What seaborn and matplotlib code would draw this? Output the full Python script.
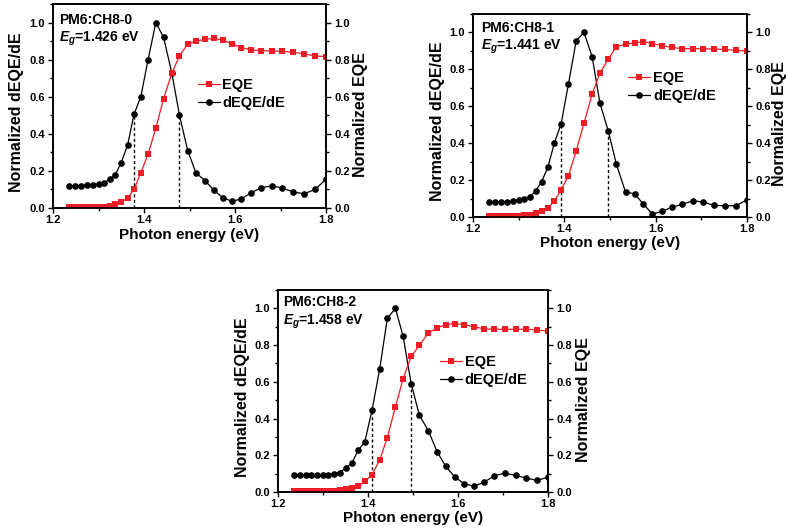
import numpy as np
import pandas as pd
import matplotlib
matplotlib.use("Agg")
import matplotlib.pyplot as plt
import seaborn as sns
from matplotlib.ticker import MultipleLocator

# ---------------- data ----------------
energy = [1.236, 1.249, 1.262, 1.274, 1.287, 1.300, 1.312, 1.325, 1.337, 1.350,
          1.364, 1.378, 1.393, 1.409, 1.426, 1.443, 1.461, 1.478, 1.496, 1.514,
          1.534, 1.554, 1.573, 1.593, 1.614, 1.636, 1.658, 1.681, 1.704, 1.728,
          1.752, 1.776, 1.800]

eqe_ch8_0 = [0.003, 0.003, 0.004, 0.004, 0.005, 0.006, 0.008, 0.012, 0.020, 0.030,
             0.055, 0.100, 0.190, 0.290, 0.430, 0.590, 0.726, 0.820, 0.885, 0.899,
             0.910, 0.914, 0.906, 0.885, 0.865, 0.852, 0.849, 0.847, 0.845, 0.840,
             0.831, 0.820, 0.816]
deqe_ch8_0 = [0.120, 0.120, 0.120, 0.122, 0.125, 0.130, 0.135, 0.155, 0.180, 0.245,
              0.340, 0.505, 0.600, 0.800, 1.000, 0.920, 0.730, 0.500, 0.310, 0.190,
              0.148, 0.095, 0.056, 0.036, 0.049, 0.083, 0.110, 0.119, 0.108, 0.086,
              0.077, 0.100, 0.155]

eqe_ch8_1 = [0.005, 0.005, 0.005, 0.006, 0.007, 0.008, 0.010, 0.013, 0.020, 0.030,
             0.048, 0.085, 0.148, 0.223, 0.359, 0.508, 0.667, 0.780, 0.854, 0.923,
             0.937, 0.944, 0.950, 0.940, 0.928, 0.919, 0.912, 0.912, 0.912, 0.910,
             0.908, 0.903, 0.899]
deqe_ch8_1 = [0.080, 0.080, 0.080, 0.082, 0.085, 0.090, 0.095, 0.110, 0.140, 0.190,
              0.270, 0.400, 0.505, 0.720, 0.955, 1.000, 0.868, 0.616, 0.468, 0.286,
              0.135, 0.126, 0.070, 0.016, 0.030, 0.054, 0.068, 0.088, 0.081, 0.063,
              0.061, 0.061, 0.094]

eqe_ch8_2 = [0.003, 0.003, 0.003, 0.004, 0.004, 0.005, 0.006, 0.008, 0.010, 0.014,
             0.020, 0.031, 0.058, 0.094, 0.175, 0.296, 0.464, 0.617, 0.738, 0.798,
             0.865, 0.894, 0.912, 0.917, 0.912, 0.900, 0.888, 0.886, 0.886, 0.886,
             0.886, 0.883, 0.875]
deqe_ch8_2 = [0.090, 0.090, 0.090, 0.090, 0.090, 0.092, 0.095, 0.100, 0.106, 0.130,
              0.157, 0.226, 0.274, 0.446, 0.670, 0.946, 1.000, 0.848, 0.590, 0.419,
              0.334, 0.217, 0.139, 0.081, 0.045, 0.031, 0.054, 0.088, 0.103, 0.090,
              0.076, 0.063, 0.081]

samples = ["PM6:CH8-0", "PM6:CH8-1", "PM6:CH8-2"]
eg_values = ["1.426", "1.441", "1.458"]
half_max_energy = [[1.378, 1.478], [1.393, 1.496], [1.409, 1.496]]
eqe_series = [eqe_ch8_0, eqe_ch8_1, eqe_ch8_2]
deqe_series = [deqe_ch8_0, deqe_ch8_1, deqe_ch8_2]

x_ticks_major = 0.2
y_ticks_major = 0.2

# ---------------- style ----------------
sns.set_style("ticks", {"axes.edgecolor": "black", "xtick.color": "black",
                        "ytick.color": "black", "text.color": "black",
                        "axes.labelcolor": "black"})
plt.rcParams["font.family"] = ["Liberation Sans", "DejaVu Sans"]
plt.rcParams.update({
    "font.weight": "bold",
    "axes.labelweight": "bold",
    "mathtext.fontset": "custom",
    "mathtext.rm": "Liberation Sans:bold",
    "mathtext.it": "Liberation Sans:italic:bold",
    "mathtext.bf": "Liberation Sans:bold",
    "axes.linewidth": 1.2,
})

RED = "#ee1c24"
W, H = 787, 531
fig = plt.figure(figsize=(W / 100, H / 100), dpi=100)

# panel boxes in pixels: left, top, right, bottom
boxes = [(53, 4, 326, 208), (473, 14, 747, 217), (278, 290, 548, 492)]
legend_anchor = [(0.53, 0.559), (0.566, 0.64), (0.60, 0.60)]
text_anchor = [(0.023, 0.92, 0.83), (0.03, 0.93, 0.84), (0.02, 0.94, 0.843)]
ylab_left = [-0.132, -0.128, -0.133]
ylab_right = [1.125, 1.12, 1.13]
xlab_y = [-0.13, -0.13, -0.13]

for i in range(3):
    l, t, r, b = boxes[i]
    ax = fig.add_axes([l / W, 1 - b / H, (r - l) / W, (b - t) / H])
    ax2 = ax.twinx()
    df = pd.DataFrame({"E": energy, "EQE": eqe_series[i], "dEQE": deqe_series[i]})

    sns.lineplot(data=df, x="E", y="dEQE", ax=ax, color="black", marker="o",
                 markersize=4.8, markeredgewidth=0, linewidth=0.9,
                 sort=False, estimator=None, legend=False)
    deqe_line = ax.lines[-1]
    sns.lineplot(data=df, x="E", y="EQE", ax=ax2, color=RED, marker="s",
                 markersize=4.3, markeredgewidth=0, linewidth=0.9,
                 sort=False, estimator=None, legend=False)
    eqe_line = ax2.lines[-1]

    xs = half_max_energy[i]
    hs = np.interp(xs, energy, deqe_series[i])
    ax.vlines(xs, 0, hs, colors="black", linestyles=(0, (2.2, 1.8)), linewidth=1.0)

    for a in (ax, ax2):
        a.set_xlim(1.2, 1.8)
        a.set_ylim(0, 1.1)
        a.yaxis.set_major_locator(MultipleLocator(y_ticks_major))
        a.yaxis.set_minor_locator(MultipleLocator(y_ticks_major / 2))
    ax.xaxis.set_major_locator(MultipleLocator(x_ticks_major))
    ax.xaxis.set_minor_locator(MultipleLocator(x_ticks_major / 2))

    for a in (ax, ax2):
        a.tick_params(which="both", direction="out", width=1.0, labelsize=8,
                      pad=2.5)
        a.tick_params(which="major", length=3.5)
        a.tick_params(which="minor", length=2)
    ax.tick_params(axis="x", pad=1.5)
    ax.tick_params(top=False, right=False)
    for lab in ax.get_xticklabels() + ax.get_yticklabels() + ax2.get_yticklabels():
        lab.set_fontweight("bold")

    ax.set_xlabel("Photon energy (eV)", fontsize=11, fontweight="bold")
    ax.set_ylabel("Normalized dEQE/dE", fontsize=11.5, fontweight="bold")
    ax2.set_ylabel("Normalized EQE", fontsize=11.5, fontweight="bold")
    ax.xaxis.set_label_coords(0.5, xlab_y[i])
    ax.xaxis.label.set_verticalalignment("center")
    ax.yaxis.set_label_coords(ylab_left[i], 0.47)
    ax.yaxis.label.set_verticalalignment("center")
    ax2.yaxis.set_label_coords(ylab_right[i], 0.46)
    ax2.yaxis.label.set_verticalalignment("center")

    tx, ty1, ty2 = text_anchor[i]
    ax.text(tx, ty1, samples[i], transform=ax.transAxes, fontsize=10,
            fontweight="bold", ha="left", va="center")
    ax.text(tx, ty2, r"$E_g$=" + eg_values[i] + " eV", transform=ax.transAxes,
            fontsize=10, fontweight="bold", ha="left", va="center")

    ax2.legend(handles=[eqe_line, deqe_line], labels=["EQE", "dEQE/dE"],
               loc="center left", bbox_to_anchor=legend_anchor[i],
               frameon=False, borderpad=0, borderaxespad=0, handlelength=1.5,
               handletextpad=0.2, labelspacing=0.3,
               prop={"size": 10.5, "weight": "bold"})

fig.savefig("out.png", dpi=100)
